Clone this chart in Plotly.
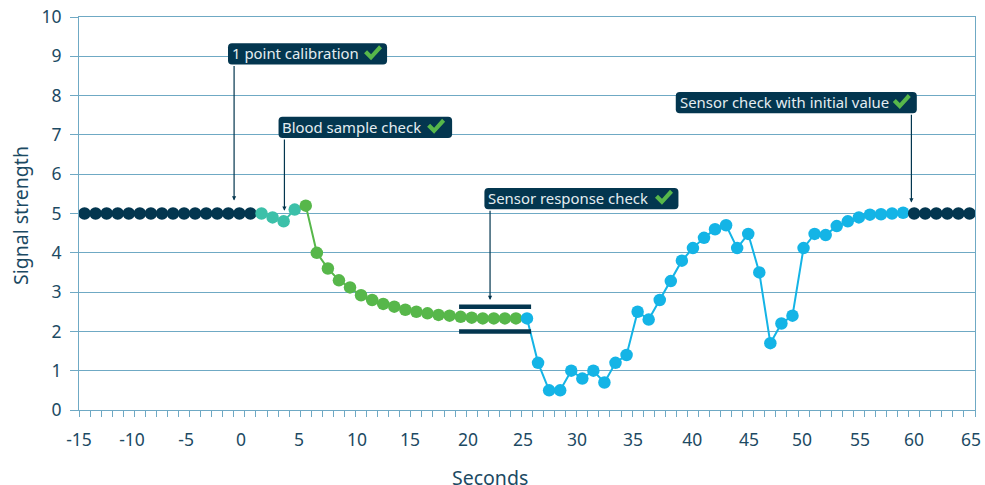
import plotly.graph_objects as go

NAVY = "#03364f"
TEAL = "#3cc0a9"
GREEN = "#57b74a"
BLUE = "#14b4e6"
GRID = "#6fa9c4"
TEXT = "#1c4a63"

seconds = list(range(-15, 66))
signal = [5.0] * 16 + [
    5.0, 4.9, 4.8, 5.1,
    5.2, 4.0, 3.6, 3.3, 3.12, 2.92, 2.8, 2.7, 2.63, 2.55, 2.5, 2.46, 2.42, 2.4, 2.37, 2.35, 2.33, 2.33, 2.33, 2.33,
    2.33, 1.2, 0.5, 0.5, 1.0, 0.8, 1.0, 0.7, 1.2, 1.4, 2.5, 2.3, 2.8, 3.28, 3.8, 4.12, 4.38, 4.6, 4.7, 4.12, 4.48,
    3.5, 1.7, 2.2, 2.4, 4.12, 4.48, 4.45, 4.68, 4.8, 4.9, 4.97, 4.98, 5.0, 5.02,
] + [5.0] * 6

# phase: first second, last second, colour
phases = [(-15, 0, NAVY), (1, 4, TEAL), (5, 24, GREEN), (25, 59, BLUE), (60, 65, NAVY)]

x_tick_vals = [-15.5, -10.71, -5.82, -0.85, 4.39, 9.64, 14.43, 19.67, 24.65, 29.53, 34.59, 39.93, 45.08, 49.87, 55.11, 59.99, 65.15]
x_tick_text = [str(v) for v in range(-15, 66, 5)]
y_ticks = list(range(0, 11))

labels = ["1 point calibration", "Blood sample check", "Sensor response check", "Sensor check with initial value"]
box_left = [-2.03, 2.54, 21.15, 38.45]
box_right = [12.35, 18.23, 38.69, 60.24]
box_top = [9.33, 7.46, 5.65, 8.09]
box_bottom = [8.79, 6.92, 5.11, 7.55]
arrow_x = [-1.48, 3.07, 21.66, 59.75]
arrow_tip = [5.33, 5.07, 2.8, 5.28]
check_left = [10.27, 15.97, 36.57, 58.07]

band_x = [18.86, 25.37]
band_y = [2.63, 2.0]

UX, UY = 11.06, 39.3  # pixels per data unit, for icon and corner sizes only
CHECK_OUTLINE = [(0, 8), (3, 5), (7, 9), (15, 0), (18, 3), (7, 15)]

fig = go.Figure()

for lo, hi, col in phases:
    start = max(lo - 1, -15)
    xs = [x for x in seconds if start <= x <= hi]
    ys = [signal[seconds.index(x)] for x in xs]
    fig.add_trace(go.Scatter(x=xs, y=ys, mode="lines", line=dict(color=col, width=2),
                             hoverinfo="skip", showlegend=False))

for lo, hi, col in phases:
    xs = [x for x in seconds if lo <= x <= hi]
    ys = [signal[seconds.index(x)] for x in xs]
    fig.add_trace(go.Scatter(x=xs, y=ys, mode="markers", marker=dict(color=col, size=12.5),
                             showlegend=False))

for by in band_y:
    fig.add_trace(go.Scatter(x=band_x, y=[by, by], mode="lines", line=dict(color=NAVY, width=4.5),
                             hoverinfo="skip", showlegend=False))

rx, ry = 4 / UX, 4 / UY
for x0, x1, y1, y0 in zip(box_left, box_right, box_top, box_bottom):
    path = (f"M{x0+rx},{y0} L{x1-rx},{y0} Q{x1},{y0} {x1},{y0+ry} L{x1},{y1-ry} Q{x1},{y1} {x1-rx},{y1} "
            f"L{x0+rx},{y1} Q{x0},{y1} {x0},{y1-ry} L{x0},{y0+ry} Q{x0},{y0} {x0+rx},{y0} Z")
    fig.add_shape(type="path", path=path, fillcolor=NAVY, line=dict(width=0), layer="above")

for cx, y0, y1 in zip(check_left, box_bottom, box_top):
    ymid = (y0 + y1) / 2
    pts = [(cx + px / UX, ymid + (8.7 - py) / UY) for px, py in CHECK_OUTLINE]
    path = "M" + " L".join(f"{a},{b}" for a, b in pts) + " Z"
    fig.add_shape(type="path", path=path, fillcolor=GREEN, line=dict(width=0), layer="above")

for text, x0, y0, y1, ax, tip in zip(labels, box_left, box_bottom, box_top, arrow_x, arrow_tip):
    fig.add_annotation(x=ax, y=tip, ax=ax, ay=y0, xref="x", yref="y", axref="x", ayref="y", text="",
                       showarrow=True, arrowhead=2, arrowsize=0.7, arrowwidth=1.2, arrowcolor=NAVY)
    fig.add_annotation(x=x0 + 0.17, y=(y0 + y1) / 2 + 0.02, xref="x", yref="y", xanchor="left", yanchor="middle",
                       showarrow=False, text=text,
                       font=dict(family="Noto Sans", size=14.9, color="#e4edf1"))

fig.add_annotation(x=0.4587, y=-0.173, xref="paper", yref="paper", xanchor="center", yanchor="middle",
                   showarrow=False, text="Seconds", font=dict(family="Noto Sans", size=19.5, color=TEXT))
fig.add_annotation(x=-0.0658, y=0.4936, xref="paper", yref="paper", xanchor="center", yanchor="middle",
                   showarrow=False, text="Signal strength", textangle=-90,
                   font=dict(family="Noto Sans", size=19.5, color=TEXT))

fig.update_layout(
    width=985, height=485, margin=dict(l=79, r=10, t=17, b=75, autoexpand=False),
    plot_bgcolor="white", paper_bgcolor="white",
    font=dict(family="Noto Sans", size=17.5, color=TEXT),
    xaxis=dict(range=[-15.5, 65.5], tickmode="array", tickvals=x_tick_vals, ticktext=x_tick_text,
               ticks="", showgrid=False, showline=True, linecolor=GRID, linewidth=1, mirror=True, zeroline=False,
               minor=dict(tick0=-15.5, dtick=1, ticks="outside", ticklen=6, tickcolor=GRID, tickwidth=1, showgrid=False),
               tickfont=dict(size=17.5, color=TEXT), ticklabelstandoff=14, automargin=False,
               ticklabeloverflow="allow"),
    yaxis=dict(range=[0, 10], tickmode="array", tickvals=y_ticks, ticks="outside", ticklen=8, tickcolor=GRID,
               showgrid=True, gridcolor=GRID, gridwidth=1, showline=True, linecolor=GRID, linewidth=1, mirror=True,
               zeroline=False, tickfont=dict(size=17.5, color=TEXT), ticklabelstandoff=5, automargin=False,
               ticklabeloverflow="allow"),
)

fig.write_html("out.html", config={"displayModeBar": False}, post_script="document.body.style.margin='0';")
